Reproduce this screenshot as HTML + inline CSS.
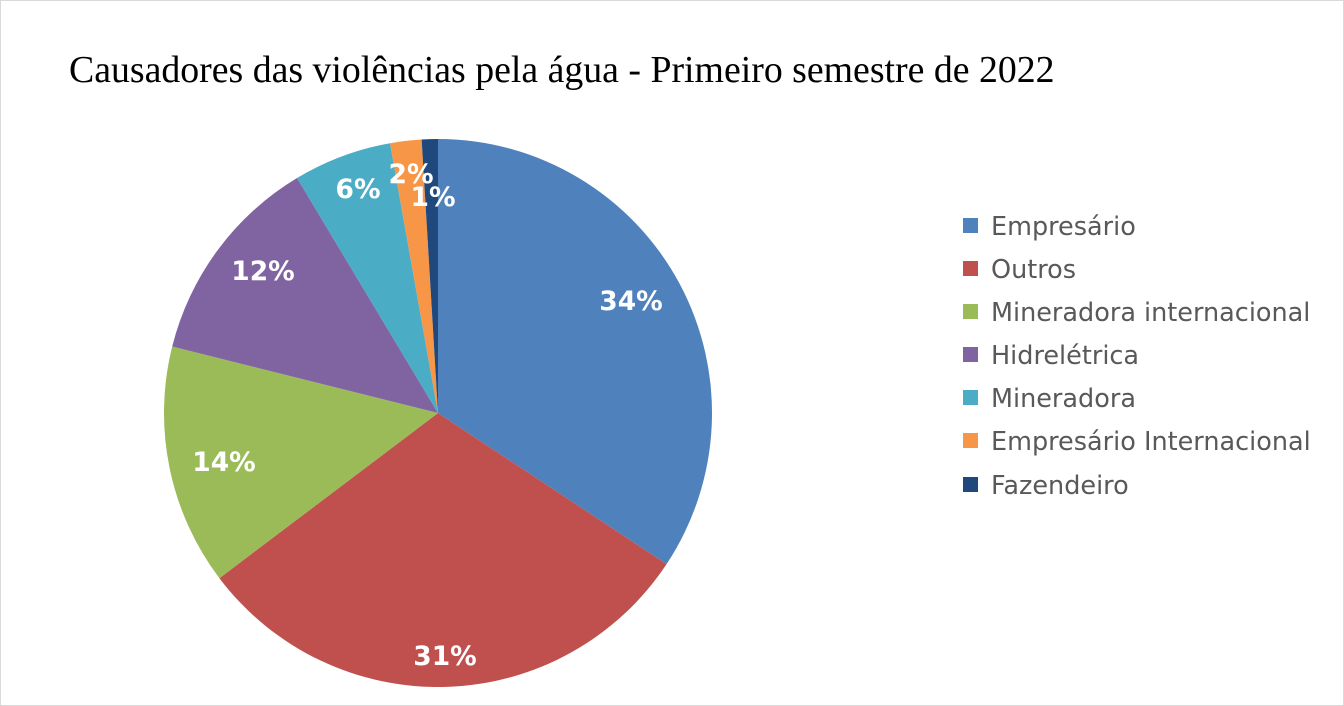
<!DOCTYPE html>
<html><head><meta charset="utf-8"><style>
html,body{margin:0;padding:0;background:#fff}
.wrap{position:relative;width:1342px;height:704px;border:1px solid #d9d9d9;overflow:hidden}
</style></head><body><div class="wrap">
<svg width="1342" height="704" xmlns="http://www.w3.org/2000/svg">
<text x="68" y="81" font-family="Liberation Serif, serif" font-size="37.8" fill="#000">Causadores das violências pela água - Primeiro semestre de 2022</text>
<g id="pie"></g>
<g font-family="DejaVu Sans, sans-serif" font-size="25.5" fill="#595959">
<rect x="962" y="217" width="15" height="15" fill="#4f81bd"/><text x="990" y="234">Empresário</text>
<rect x="962" y="260" width="15" height="15" fill="#c0504d"/><text x="990" y="277">Outros</text>
<rect x="962" y="303" width="15" height="15" fill="#9bbb59"/><text x="990" y="320">Mineradora internacional</text>
<rect x="962" y="346" width="15" height="15" fill="#8064a2"/><text x="990" y="363">Hidrelétrica</text>
<rect x="962" y="389" width="15" height="15" fill="#4bacc6"/><text x="990" y="406">Mineradora</text>
<rect x="962" y="432" width="15" height="15" fill="#f79646"/><text x="990" y="449">Empresário Internacional</text>
<rect x="962" y="476" width="15" height="15" fill="#1f497d"/><text x="990" y="493">Fazendeiro</text>
</g>
</svg>
<script>
var cx=437,cy=412,r=274;
var d=[[34.3,"#4f81bd"],[30.4,"#c0504d"],[14.2,"#9bbb59"],[12.5,"#8064a2"],[5.8,"#4bacc6"],[1.85,"#f79646"],[0.95,"#1f497d"]];
var g=document.getElementById("pie"),s="",a=0;
function p(t){var r2=t/100*2*Math.PI;return (cx+r*Math.sin(r2)).toFixed(2)+","+(cy-r*Math.cos(r2)).toFixed(2);}
d.forEach(function(x){var b=a+x[0];s+='<path d="M'+cx+','+cy+' L'+p(a)+' A'+r+','+r+' 0 '+(x[0]>50?1:0)+' 1 '+p(b)+' Z" fill="'+x[1]+'"/>';a=b;});
var L=[[630,309,"34%"],[444,664,"31%"],[223,470,"14%"],[262,279,"12%"],[357,197,"6%"],[410,182,"2%"],[432,205,"1%"]];
L.forEach(function(l){s+='<text x="'+l[0]+'" y="'+l[1]+'" text-anchor="middle" font-family="DejaVu Sans, sans-serif" font-weight="bold" font-size="26.5" fill="#fff">'+l[2]+'</text>';});
g.innerHTML=s;
</script>
</div></body></html>
